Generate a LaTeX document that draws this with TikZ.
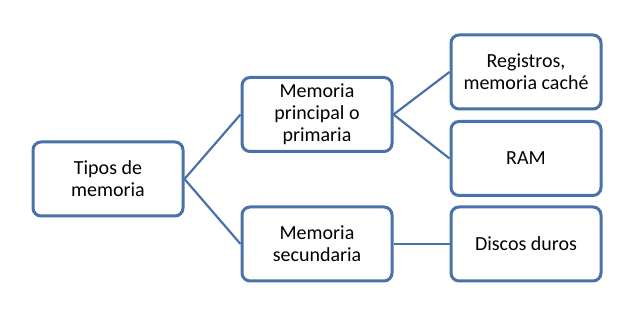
\documentclass[tikz,border=0pt]{standalone}
\usepackage{fontspec}
\setmainfont{Carlito}
\definecolor{boxblue}{HTML}{4A72AA}
\begin{document}
\begin{tikzpicture}[x=1pt,y=-1pt,
  box/.style={draw=boxblue, line width=3pt, rounded corners=8pt, fill=white,
    minimum width=150pt, minimum height=74pt, align=center, inner sep=0pt,
    font=\fontsize{20pt}{22pt}\selectfont, text=black},
  link/.style={draw=boxblue, line width=2.2pt}]
\useasboundingbox (0,0) rectangle (633,323);
\node[box] (tipos) at (108,179) {Tipos de\\memoria};
\node[box] (prin) at (317,114.5) {Memoria\\principal o\\primaria};
\node[box] (sec) at (317,244) {Memoria\\secundaria};
\node[box] (reg) at (526,72) {Registros,\\memoria caché};
\node[box] (ram) at (526,158.5) {RAM};
\node[box] (disc) at (526,244) {Discos duros};
\draw[link] (tipos.east) -- (prin.west);
\draw[link] (tipos.east) -- (sec.west);
\draw[link] (prin.east) -- (reg.west);
\draw[link] (prin.east) -- (ram.west);
\draw[link] (sec.east) -- (disc.west);
\end{tikzpicture}
\end{document}
